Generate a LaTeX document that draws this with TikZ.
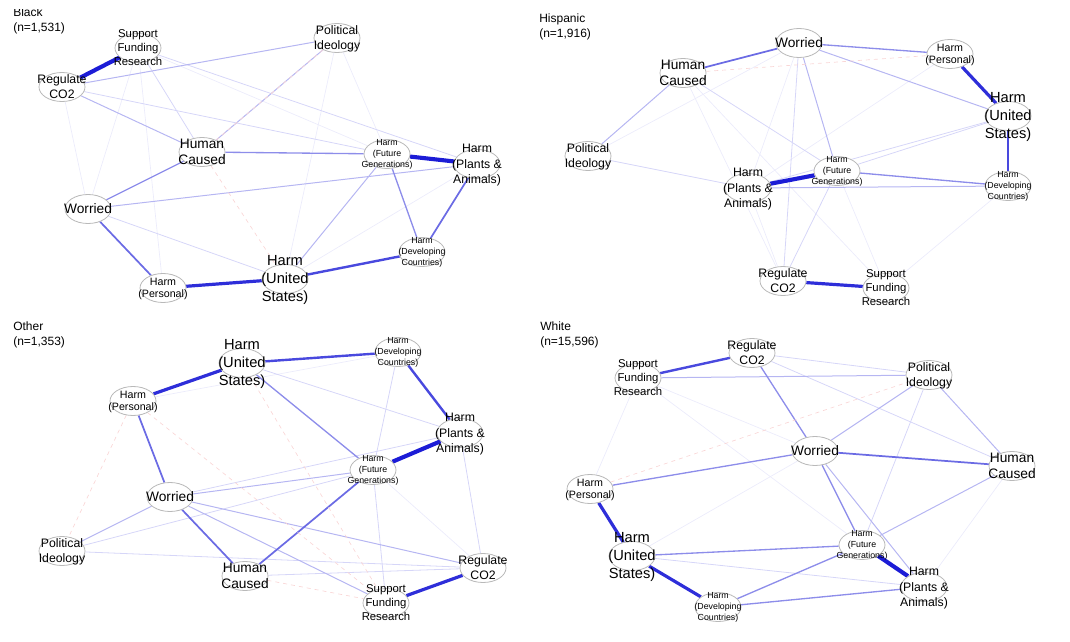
\documentclass[tikz,border=0pt]{standalone}
\usepackage{fontspec}
\setmainfont{Liberation Sans}
\usepackage{tikz}
\usetikzlibrary{shapes.geometric,backgrounds}
\usepackage{xcolor}
\definecolor{qpos}{RGB}{28,28,214}
\definecolor{qneg}{RGB}{235,110,110}
\definecolor{qring}{RGB}{185,185,185}
\newcommand{\lbl}[1]{\makebox[0pt]{\raisebox{-0.33em}[0pt][0pt]{\begin{tabular}{@{}c@{}}#1\end{tabular}}}}

\begin{document}
\begin{tikzpicture}[x=0.75pt,y=-0.75pt,line cap=round,
  hn/.style={ellipse,draw=qring,fill=white,line width=0.6pt,minimum width=34.5pt,minimum height=21.75pt,inner sep=0pt},
  fA/.style={font=\fontsize{11}{13.4}\selectfont},
  fB/.style={font=\fontsize{10.3}{12.6}\selectfont},
  fC/.style={font=\fontsize{9.2}{11.4}\selectfont},
  fD/.style={font=\fontsize{8.5}{10.5}\selectfont},
  fE/.style={font=\fontsize{8}{9.4}\selectfont},
  fF/.style={font=\fontsize{6.6}{8.1}\selectfont},
  ttl/.style={anchor=north west,align=left,inner sep=0pt,font=\fontsize{9}{11}\selectfont},
  e1/.style={draw=qpos!9,line width=0.5pt},
  e2/.style={draw=qpos!18,line width=0.6pt},
  e3/.style={draw=qpos!32,line width=0.75pt},
  e4/.style={draw=qpos!50,line width=1pt},
  e5/.style={draw=qpos!65,line width=1.3pt},
  e6/.style={draw=qpos!80,line width=1.8pt},
  e7/.style={draw=qpos!92,line width=2.4pt},
  e8/.style={draw=qpos,line width=3.1pt},
  ng/.style={draw=qneg!28,line width=0.5pt,dashed}]
\useasboundingbox (0,0) rectangle (1070,642);

\begin{scope}
\clip (0,10) rectangle (200,60);
\node[ttl] (b-title) at (13,7.5) {Black\\(n=1,531)};
\end{scope}
\node[ttl] (h-title) at (539,14) {Hispanic\\(n=1,916)};
\node[ttl] (o-title) at (13,322) {Other\\(n=1,353)};
\node[ttl] (w-title) at (540,322) {White\\(n=15,596)};

\node[hn,fD] (b-sfr) at (138,48) {\lbl{Support\\Funding\\Research}};
\node[hn,fC] (b-pi) at (337,38) {\lbl{Political\\Ideology}};
\node[hn,fC] (b-rc) at (62,87) {\lbl{Regulate\\CO2}};
\node[hn,fB] (b-hc) at (202,152) {\lbl{Human\\Caused}};
\node[hn,fF] (b-hfg) at (387,154) {\lbl{Harm\\(Future\\Generations)}};
\node[hn,fC] (b-hpa) at (477,164) {\lbl{Harm\\(Plants \&\\Animals)}};
\node[hn,fB] (b-wor) at (88,209) {\lbl{Worried}};
\node[hn,fF] (b-hdc) at (422,252) {\lbl{Harm\\(Developing\\Countries)}};
\node[hn,fE] (b-hp) at (163,288) {\lbl{Harm\\(Personal)}};
\node[hn,fA] (b-hus) at (285,279) {\lbl{Harm\\(United\\States)}};

\node[hn,fB] (h-wor) at (799,43) {\lbl{Worried}};
\node[hn,fB] (h-hc) at (683,73) {\lbl{Human\\Caused}};
\node[hn,fE] (h-hp) at (950,54) {\lbl{Harm\\(Personal)}};
\node[hn,fA] (h-hus) at (1008,116) {\lbl{Harm\\(United\\States)}};
\node[hn,fC] (h-pi) at (588,156) {\lbl{Political\\Ideology}};
\node[hn,fC] (h-hpa) at (748,188) {\lbl{Harm\\(Plants \&\\Animals)}};
\node[hn,fF] (h-hfg) at (837,171) {\lbl{Harm\\(Future\\Generations)}};
\node[hn,fF] (h-hdc) at (1008,186) {\lbl{Harm\\(Developing\\Countries)}};
\node[hn,fC] (h-rc) at (783,281) {\lbl{Regulate\\CO2}};
\node[hn,fD] (h-sfr) at (886,288) {\lbl{Support\\Funding\\Research}};

\node[hn,fA] (o-hus) at (242,363) {\lbl{Harm\\(United\\States)}};
\node[hn,fF] (o-hdc) at (398,352) {\lbl{Harm\\(Developing\\Countries)}};
\node[hn,fE] (o-hp) at (133,401) {\lbl{Harm\\(Personal)}};
\node[hn,fC] (o-hpa) at (460,433) {\lbl{Harm\\(Plants \&\\Animals)}};
\node[hn,fF] (o-hfg) at (373,470) {\lbl{Harm\\(Future\\Generations)}};
\node[hn,fB] (o-wor) at (170,497) {\lbl{Worried}};
\node[hn,fC] (o-pi) at (62,551) {\lbl{Political\\Ideology}};
\node[hn,fB] (o-hc) at (245,576) {\lbl{Human\\Caused}};
\node[hn,fC] (o-rc) at (483,568) {\lbl{Regulate\\CO2}};
\node[hn,fD] (o-sfr) at (386,603) {\lbl{Support\\Funding\\Research}};

\node[hn,fC] (w-rc) at (752,353) {\lbl{Regulate\\CO2}};
\node[hn,fD] (w-sfr) at (638,378) {\lbl{Support\\Funding\\Research}};
\node[hn,fC] (w-pi) at (929,375) {\lbl{Political\\Ideology}};
\node[hn,fB] (w-wor) at (815,451) {\lbl{Worried}};
\node[hn,fB] (w-hc) at (1012,466) {\lbl{Human\\Caused}};
\node[hn,fE] (w-hp) at (590,489) {\lbl{Harm\\(Personal)}};
\node[hn,fA] (w-hus) at (632,556) {\lbl{Harm\\(United\\States)}};
\node[hn,fF] (w-hfg) at (862,545) {\lbl{Harm\\(Future\\Generations)}};
\node[hn,fC] (w-hpa) at (924,587) {\lbl{Harm\\(Plants \&\\Animals)}};
\node[hn,fF] (w-hdc) at (718,607) {\lbl{Harm\\(Developing\\Countries)}};

\begin{pgfonlayer}{background}
\foreach \a/\b in {wor/rc,wor/sfr,hp/sfr,pi/hfg,hus/pi,hus/hpa,sfr/hfg}
  \draw[e1] (b-\a) -- (b-\b);
\foreach \a/\b in {rc/hfg,sfr/hc,wor/hus,sfr/hpa}
  \draw[e2] (b-\a) -- (b-\b);
\foreach \a/\b in {hus/hfg,hc/pi,rc/pi,rc/hc,wor/hpa}
  \draw[e3] (b-\a) -- (b-\b);
\foreach \a/\b in {hfg/hdc,wor/hc,hc/hfg}
  \draw[e4] (b-\a) -- (b-\b);
\foreach \a/\b in {wor/hp,hdc/hpa}
  \draw[e5] (b-\a) -- (b-\b);
\draw[e6] (b-hus) -- (b-hdc);
\draw[e7] (b-hp) -- (b-hus);
\draw[e8] (b-rc) -- (b-sfr);
\draw[e8] (b-hfg) -- (b-hpa);
\draw[ng] (b-hc) -- (b-hus);
\draw[ng] (b-pi) -- (b-hc);

\foreach \a/\b in {hpa/rc,hc/rc,hc/sfr,hfg/sfr,hdc/sfr,pi/wor,hp/hpa,wor/hpa}
  \draw[e1] (h-\a) -- (h-\b);
\foreach \a/\b in {pi/hpa,hc/hfg,hpa/hus,hfg/hus,wor/rc,hfg/rc}
  \draw[e2] (h-\a) -- (h-\b);
\foreach \a/\b in {hpa/hdc,hc/pi,wor/hus,wor/hfg}
  \draw[e3] (h-\a) -- (h-\b);
\foreach \a/\b in {wor/hp,hfg/hdc}
  \draw[e4] (h-\a) -- (h-\b);
\draw[e5] (h-hc) -- (h-wor);
\draw[e6] (h-hus) -- (h-hdc);
\draw[e7] (h-hp) -- (h-hus);
\draw[e7] (h-rc) -- (h-sfr);
\draw[e8] (h-hpa) -- (h-hfg);
\draw[ng] (h-hc) -- (h-hp);

\foreach \a/\b in {hp/hdc,hfg/rc}
  \draw[e1] (o-\a) -- (o-\b);
\foreach \a/\b in {hdc/hfg,hfg/sfr,hpa/rc,wor/hpa,pi/hfg,pi/rc,hc/rc,hus/hpa}
  \draw[e2] (o-\a) -- (o-\b);
\foreach \a/\b in {wor/hfg,pi/wor,wor/rc,wor/sfr}
  \draw[e3] (o-\a) -- (o-\b);
\draw[e4] (o-hus) -- (o-hfg);
\foreach \a/\b in {hp/wor,wor/hc,hc/hfg}
  \draw[e5] (o-\a) -- (o-\b);
\foreach \a/\b in {hus/hdc,hdc/hpa}
  \draw[e6] (o-\a) -- (o-\b);
\draw[e7] (o-hp) -- (o-hus);
\draw[e7] (o-rc) -- (o-sfr);
\draw[e8] (o-hfg) -- (o-hpa);
\foreach \a/\b in {hp/pi,hp/sfr,hus/sfr,hc/sfr}
  \draw[ng] (o-\a) -- (o-\b);

\foreach \a/\b in {hc/hpa,sfr/wor,sfr/hfg,hus/wor,sfr/hp}
  \draw[e1] (w-\a) -- (w-\b);
\foreach \a/\b in {rc/pi,rc/hc,pi/hfg,hus/hpa}
  \draw[e2] (w-\a) -- (w-\b);
\foreach \a/\b in {pi/wor,pi/hc,hfg/hc,sfr/pi,wor/hpa}
  \draw[e3] (w-\a) -- (w-\b);
\foreach \a/\b in {hp/wor,hus/hfg,hdc/hfg,hdc/hpa,rc/wor,wor/hfg}
  \draw[e4] (w-\a) -- (w-\b);
\draw[e5] (w-wor) -- (w-hc);
\draw[e6] (w-sfr) -- (w-rc);
\draw[e7] (w-hp) -- (w-hus);
\draw[e7] (w-hus) -- (w-hdc);
\draw[e8] (w-hfg) -- (w-hpa);
\draw[ng] (w-hp) -- (w-pi);
\end{pgfonlayer}
\end{tikzpicture}
\end{document}
